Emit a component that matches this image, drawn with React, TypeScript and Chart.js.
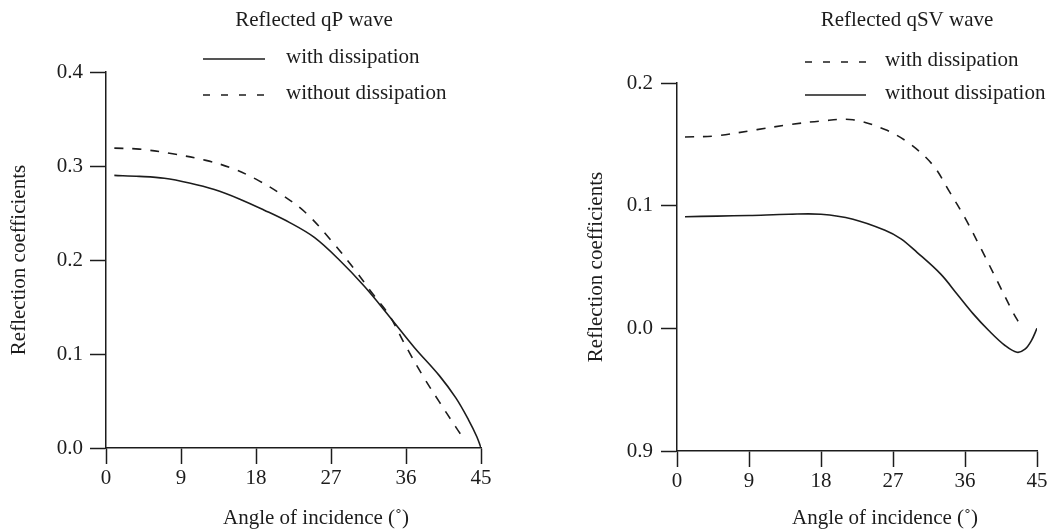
import React, { useEffect, useRef } from "react";
import { Chart, registerables } from "chart.js";

Chart.register(...registerables);

const FONT = '"Liberation Serif", "Times New Roman", Times, serif';
const INK = "#1c1c1c";

// ---------- shared labels ----------
const seriesNames = ["with dissipation", "without dissipation"];
const yAxisTitle = "Reflection coefficients";
const xAxisTitle = "Angle of incidence (˚)";
const xTickLabels = ["0", "9", "18", "27", "36", "45"];

// ---------- left panel: reflected qP wave ----------
const qpTitle = "Reflected qP wave";
const qpYTickLabels = ["0.0", "0.1", "0.2", "0.3", "0.4"];
const qpWithAngles = [1, 4, 7, 10, 13, 16, 19, 22, 25, 28, 31, 34, 37, 40, 42, 43.5, 44.5, 45];
const qpWithValues = [0.29, 0.289, 0.287, 0.282, 0.275, 0.265, 0.253, 0.24, 0.224, 0.2, 0.172, 0.14, 0.107, 0.077, 0.053, 0.03, 0.012, 0.0];
const qpWithoutAngles = [1, 4, 8, 12, 15, 18, 21, 24, 27, 30, 32, 34, 36, 38, 40, 42, 42.6];
const qpWithoutValues = [0.319, 0.318, 0.313, 0.306, 0.298, 0.286, 0.27, 0.25, 0.221, 0.188, 0.164, 0.141, 0.108, 0.077, 0.049, 0.022, 0.014];

// ---------- right panel: reflected qSV wave ----------
const qsvTitle = "Reflected qSV wave";
const qsvYTickLabels = ["0.9", "0.0", "0.1", "0.2"];
const qsvWithAngles = [1, 5, 10, 14, 18, 22, 26, 29, 32, 34, 36, 38, 40, 42, 42.8];
const qsvWithValues = [0.156, 0.157, 0.162, 0.166, 0.169, 0.17, 0.162, 0.151, 0.133, 0.112, 0.09, 0.065, 0.039, 0.013, 0.004];
const qsvWithoutAngles = [1, 5, 9, 14, 18, 22, 26, 28, 30, 33, 35, 37, 39, 41, 42.5, 43.5, 44.3, 45];
const qsvWithoutValues = [0.091, 0.0915, 0.092, 0.093, 0.093, 0.089, 0.08, 0.073, 0.062, 0.044, 0.028, 0.012, -0.002, -0.014, -0.0195, -0.017, -0.01, 0.0];

const toPoints = (xs: number[], ys: number[]) => xs.map((x, i) => ({ x, y: ys[i] }));

const PLOT_DASH = [9, 9];
const LEGEND_DASH = [7, 11];

const overlayPlugin = {
  id: "overlay",
  afterDraw(chart: any, _args: any, opts: any) {
    const ctx = chart.ctx;
    ctx.save();
    ctx.fillStyle = INK;
    ctx.font = `21px ${FONT}`;
    ctx.textBaseline = "middle";
    ctx.textAlign = "center";
    ctx.fillText(opts.title, opts.titleX, opts.titleY);
    ctx.fillText(opts.xTitle, opts.xTitleX, opts.xTitleY);
    chart.data.datasets.forEach((ds: any, i: number) => {
      const y = opts.rowY[i];
      ctx.beginPath();
      ctx.setLineDash(ds.borderDash && ds.borderDash.length ? LEGEND_DASH : []);
      ctx.lineWidth = ds.borderWidth;
      ctx.strokeStyle = ds.borderColor;
      ctx.moveTo(opts.lineX0, y + 2);
      ctx.lineTo(opts.lineX1, y + 2);
      ctx.stroke();
      ctx.setLineDash([]);
      ctx.textAlign = "left";
      ctx.fillText(ds.label, opts.textX, y);
    });
    ctx.restore();
  },
};

type PanelSpec = {
  width: number;
  height: number;
  padding: { top: number; right: number; left: number; bottom: number };
  yAxisWidth: number;
  xAxisHeight: number;
  yMin: number;
  yMax: number;
  yTickLabels: string[];
  yTickPadding: number;
  yTitlePad: number;
  xTickPadding: number;
  datasets: any[];
  overlay: any;
};

function buildConfig(spec: PanelSpec): any {
  const tickFont = { family: FONT, size: 21 };
  return {
    type: "line",
    data: { datasets: spec.datasets },
    options: {
      animation: false,
      responsive: false,
      maintainAspectRatio: false,
      layout: { padding: spec.padding },
      plugins: {
        legend: { display: false },
        tooltip: { enabled: false },
        title: { display: false },
        overlay: spec.overlay,
      },
      elements: { point: { radius: 0 } },
      scales: {
        x: {
          type: "linear",
          min: 0,
          max: 45,
          afterFit: (s: any) => {
            s.height = spec.xAxisHeight;
          },
          ticks: {
            stepSize: 9,
            padding: spec.xTickPadding,
            color: INK,
            font: tickFont,
            maxRotation: 0,
            callback: (_v: any, i: number) => xTickLabels[i],
          },
          grid: {
            drawOnChartArea: false,
            drawTicks: true,
            tickLength: 16,
            tickColor: INK,
            tickWidth: 1.5,
          },
          border: { display: true, color: INK, width: 1.5 },
        },
        y: {
          type: "linear",
          min: spec.yMin,
          max: spec.yMax,
          afterFit: (s: any) => {
            s.width = spec.yAxisWidth;
          },
          ticks: {
            stepSize: 0.1,
            padding: spec.yTickPadding,
            color: INK,
            font: tickFont,
            callback: (_v: any, i: number) => spec.yTickLabels[i],
          },
          grid: {
            drawOnChartArea: false,
            drawTicks: true,
            tickLength: 16,
            tickColor: INK,
            tickWidth: 1.5,
          },
          border: { display: true, color: INK, width: 1.5 },
          title: {
            display: true,
            text: yAxisTitle,
            color: INK,
            font: { family: FONT, size: 21 },
            padding: { top: spec.yTitlePad, bottom: 0 },
          },
        },
      },
    },
    plugins: [overlayPlugin],
  };
}

function lineDataset(label: string, xs: number[], ys: number[], dashed: boolean) {
  return {
    label,
    data: toPoints(xs, ys),
    borderColor: INK,
    borderWidth: 1.6,
    borderDash: dashed ? PLOT_DASH : [],
    fill: false,
    tension: 0.35,
    pointRadius: 0,
  };
}

const leftSpec: PanelSpec = {
  width: 530,
  height: 532,
  padding: { top: 72, right: 49, left: 0, bottom: 0 },
  yAxisWidth: 106,
  xAxisHeight: 84,
  yMin: 0,
  yMax: 0.4,
  yTickLabels: qpYTickLabels,
  yTickPadding: 7,
  yTitlePad: 7,
  xTickPadding: 2,
  datasets: [
    lineDataset(seriesNames[0], qpWithAngles, qpWithValues, false),
    lineDataset(seriesNames[1], qpWithoutAngles, qpWithoutValues, true),
  ],
  overlay: {
    title: qpTitle,
    titleX: 314,
    titleY: 20,
    xTitle: xAxisTitle,
    xTitleX: 316,
    xTitleY: 518,
    rowY: [57, 93],
    lineX0: 203,
    lineX1: 265,
    textX: 286,
  },
};

const rightSpec: PanelSpec = {
  width: 523,
  height: 532,
  padding: { top: 83, right: 16, left: 0, bottom: 0 },
  yAxisWidth: 147,
  xAxisHeight: 81,
  yMin: -0.1,
  yMax: 0.2,
  yTickLabels: qsvYTickLabels,
  yTickPadding: 8,
  yTitlePad: 54,
  xTickPadding: 2,
  datasets: [
    lineDataset(seriesNames[0], qsvWithAngles, qsvWithValues, true),
    lineDataset(seriesNames[1], qsvWithoutAngles, qsvWithoutValues, false),
  ],
  overlay: {
    title: qsvTitle,
    titleX: 377,
    titleY: 20,
    xTitle: xAxisTitle,
    xTitleX: 355,
    xTitleY: 518,
    rowY: [60, 93],
    lineX0: 275,
    lineX1: 336,
    textX: 355,
  },
};

function Panel({ spec, left }: { spec: PanelSpec; left: number }) {
  const ref = useRef<HTMLCanvasElement | null>(null);
  useEffect(() => {
    if (!ref.current) return;
    const chart = new Chart(ref.current, buildConfig(spec));
    return () => chart.destroy();
  }, [spec]);
  return (
    <canvas
      ref={ref}
      width={spec.width}
      height={spec.height}
      style={{
        position: "absolute",
        left,
        top: 0,
        width: spec.width,
        height: spec.height,
      }}
    />
  );
}

export default function App() {
  return (
    <div
      style={{
        position: "fixed",
        left: 0,
        top: 0,
        width: 1053,
        height: 532,
        background: "#ffffff",
        overflow: "hidden",
      }}
    >
      <Panel spec={leftSpec} left={0} />
      <Panel spec={rightSpec} left={530} />
    </div>
  );
}
